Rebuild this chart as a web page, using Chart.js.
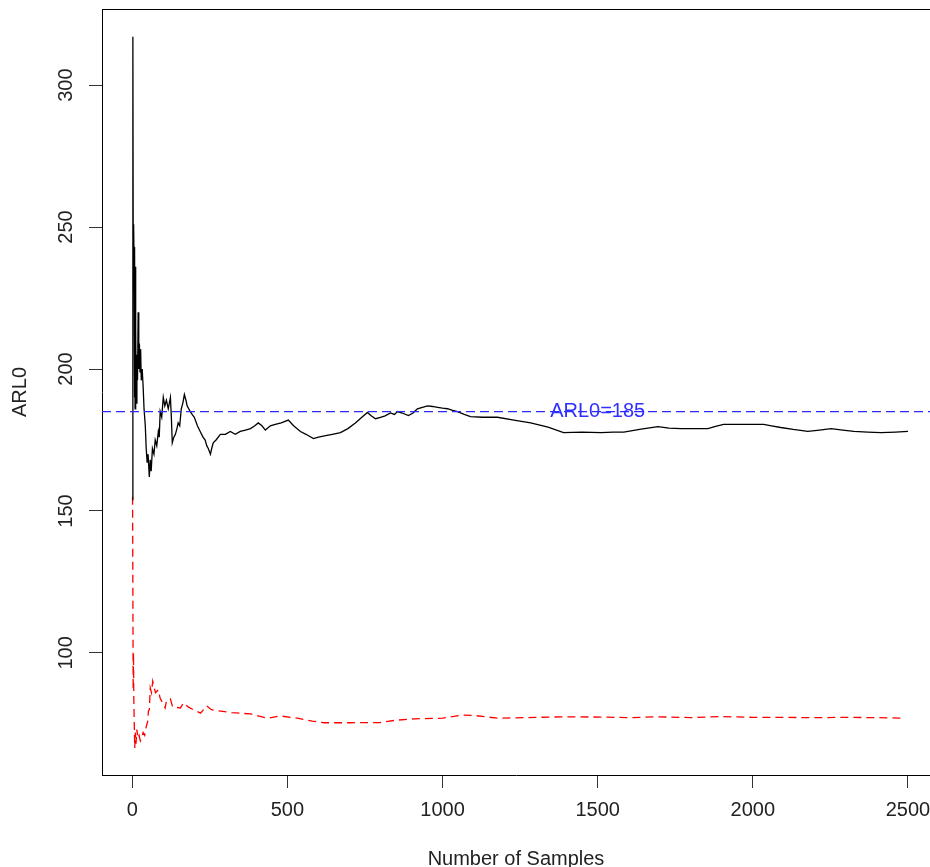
<!DOCTYPE html>
<html>
<head>
<meta charset="utf-8">
<script src="https://cdn.jsdelivr.net/npm/chart.js@4.4.1/dist/chart.umd.min.js"></script>
<style>
  html, body { margin: 0; padding: 0; background: #ffffff; }
  #wrap { width: 930px; height: 867px; position: relative; }
</style>
</head>
<body>
<div id="wrap"><canvas id="c" width="930" height="867"></canvas></div>
<script>
// ---- data ----
const xTicks = [0, 500, 1000, 1500, 2000, 2500];
const yTicks = [100, 150, 200, 250, 300];
const xTitle = "Number of Samples";
const yTitle = "ARL0";
const refValue = 185;
const refLabel = "ARL0=185";
const refLabelAt = 1500;

const blackSamples = [1,2,3,4,5,6,7,8,9,10,11,12,13,15,17,19,21,23,25,27,29,32,35,38,42,45,48,51,55,58,61,65,70,74,79,84,87,90,95,100,105,110,116,123,126,129,134,139,144,148,153,158,163,168,173,177,182,187,193,200,210,219,228,235,240,245,252,256,261,270,284,300,316,332,348,365,381,395,406,418,429,445,461,480,503,520,542,560,584,600,623,645,671,695,719,740,758,770,784,800,815,832,845,855,870,890,905,919,935,952,968,984,1000,1016,1030,1048,1070,1090,1130,1177,1230,1284,1340,1390,1450,1510,1550,1584,1640,1694,1730,1768,1810,1855,1880,1906,1970,2035,2060,2090,2130,2177,2215,2252,2290,2326,2370,2413,2460,2500];
const blackARL = [154,317,251,244,250,237,190,243,186,236,192,214,188,205,196,220,200,209,199,207,196,200,194,186,180,172,167,170,162,168,164,172,170,175,173,178,176,185,183,190,187,189,186,190,183,174,176,177,179,181,180,186,188,191,189,187,186,185,184,183,180,178,176,175,173,172,170,172,174,175,177,177,178,177,178,178.5,179,180,181,180,178.5,180,180.5,181,182,180,178,177,175.5,176,176.5,177,177.6,179,181,183,184.7,183.5,182.5,183,183.5,184.5,184,185,184.5,183.6,184.5,186,186.5,187,186.8,186.5,186.2,186,185.5,185,184,183.2,183,183,182,181,179.5,177.6,177.8,177.6,177.8,177.8,178.8,179.7,179.2,179,179,179,179.8,180.5,180.5,180.5,180,179.4,178.7,178,178.5,179,178.5,178,177.8,177.6,177.8,178];

const redSamples = [1,2,3,4,5,6,8,10,12,15,18,22,26,30,35,40,45,50,52,55,58,62,66,70,75,84,90,100,106,110,123,130,155,165,180,197,220,240,255,285,320,381,435,477,532,580,620,700,800,850,910,1000,1060,1100,1177,1300,1400,1510,1600,1700,1800,1900,2000,2100,2200,2300,2400,2490];
const redARL = [155,122,87,100,84,78,66.5,72,68,73,70,71,69,70,72,71,74,76,79.5,80,87.7,86,90,88,86,87,84,82,80.6,83,83.8,81,80.6,82.4,81,80,78.8,81.3,80,79.5,79,78.5,77,77.8,77,76,75.4,75.4,75.5,76.3,76.8,77,78.1,78,77,77.3,77.5,77.4,77.2,77.5,77.2,77.6,77.3,77.3,77.2,77.3,77.2,77];

const FONT = "'Liberation Sans', Arial, sans-serif";
const TEXT = "#222222";

const toXY = (xs, ys) => xs.map((x, i) => ({ x: x, y: ys[i] }));

const xMin = -97.5, xMax = 2571, yMin = 57, yMax = 326.8;

const decor = {
  id: 'decor',
  afterDraw(chart) {
    const ctx = chart.ctx;
    const a = chart.chartArea;
    const xs = chart.scales.x, ys = chart.scales.y;
    ctx.save();
    // top border of box (R box)
    ctx.strokeStyle = '#000';
    ctx.lineWidth = 1;
    ctx.beginPath();
    ctx.moveTo(a.left, Math.round(a.top) + 0.5);
    ctx.lineTo(chart.width, Math.round(a.top) + 0.5);
    ctx.stroke();
    // rotated y tick labels
    ctx.fillStyle = TEXT;
    ctx.font = "20px " + FONT;
    ctx.textAlign = 'center';
    ctx.textBaseline = 'middle';
    yTicks.forEach(v => {
      const py = ys.getPixelForValue(v);
      ctx.save();
      ctx.translate(66, py);
      ctx.rotate(-Math.PI / 2);
      ctx.fillText(String(v), 0, 0);
      ctx.restore();
    });
    // reference label
    ctx.fillStyle = '#3030ff';
    ctx.fillText(refLabel, xs.getPixelForValue(refLabelAt), ys.getPixelForValue(refValue));
    ctx.restore();
  }
};

new Chart(document.getElementById('c'), {
  type: 'scatter',
  data: {
    datasets: [
      {
        label: 'ARL0',
        data: toXY(blackSamples, blackARL),
        showLine: true, borderColor: '#000000', borderWidth: 1.3,
        pointRadius: 0, tension: 0, order: 2
      },
      {
        label: 'ARL1',
        data: toXY(redSamples, redARL),
        showLine: true, borderColor: '#ff0000', borderWidth: 1.3,
        borderDash: [8, 5], pointRadius: 0, tension: 0, order: 3
      },
      {
        label: 'ref',
        data: [{ x: xMin, y: refValue }, { x: xMax, y: refValue }],
        showLine: true, borderColor: '#2a2aff', borderWidth: 1.2,
        borderDash: [9, 5], pointRadius: 0, tension: 0, order: 1
      }
    ]
  },
  options: {
    responsive: false,
    animation: false,
    devicePixelRatio: 1,
    layout: { padding: { top: 9, right: 0, left: 0, bottom: 0 } },
    plugins: { legend: { display: false }, tooltip: { enabled: false } },
    scales: {
      x: {
        type: 'linear', min: xMin, max: xMax,
        afterBuildTicks: s => { s.ticks = xTicks.map(v => ({ value: v })); },
        afterFit: s => { s.height = 92; s.paddingLeft = 0; s.paddingRight = 0; },
        grid: { drawOnChartArea: false, drawTicks: true, tickLength: 13, color: '#333', lineWidth: 1 },
        border: { display: true, color: '#000', width: 1 },
        ticks: { font: { size: 20, family: FONT }, color: TEXT, padding: 10, maxRotation: 0, autoSkip: false,
                 callback: v => String(v) },
        title: { display: true, text: xTitle, font: { size: 20, family: FONT }, color: TEXT, padding: { top: 0, bottom: -4 } }
      },
      y: {
        type: 'linear', min: yMin, max: yMax,
        afterBuildTicks: s => { s.ticks = yTicks.map(v => ({ value: v })); },
        afterFit: s => { s.width = 102; s.paddingTop = 0; s.paddingBottom = 0; },
        grid: { drawOnChartArea: false, drawTicks: true, tickLength: 13, color: '#333', lineWidth: 1 },
        border: { display: true, color: '#000', width: 1 },
        ticks: { display: false },
        title: { display: true, text: yTitle, font: { size: 20, family: FONT }, color: TEXT, padding: { top: 8, bottom: 0 } }
      }
    }
  },
  plugins: [decor]
});
</script>
</body>
</html>
